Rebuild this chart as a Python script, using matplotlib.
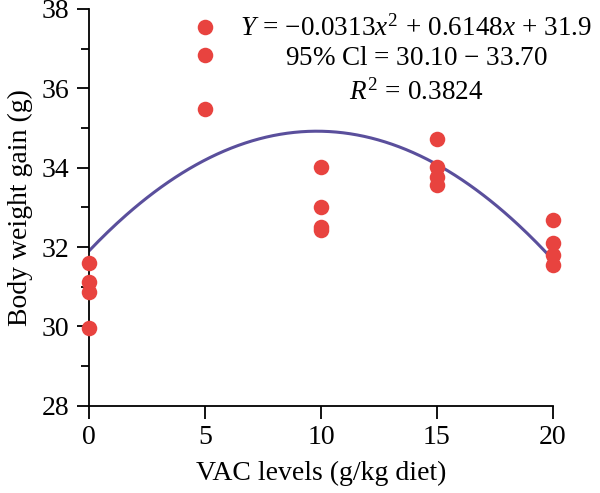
import matplotlib
matplotlib.use("Agg")
import matplotlib.pyplot as plt
import numpy as np
from matplotlib.ticker import MultipleLocator

plt.rcParams['font.family'] = ['Liberation Serif', 'DejaVu Serif']
plt.rcParams['mathtext.fontset'] = 'custom'
plt.rcParams['mathtext.rm'] = 'Liberation Serif'
plt.rcParams['mathtext.it'] = 'Liberation Serif:italic'

# Data
vac_x = [0, 0, 0, 0, 5, 5, 5, 10, 10, 10, 10, 15, 15, 15, 15, 20, 20, 20, 20]
gain_y = [31.60, 31.13, 30.87, 29.97,
          37.54, 36.84, 35.47,
          34.01, 33.00, 32.50, 32.42,
          34.72, 34.02, 33.77, 33.56,
          32.67, 32.09, 31.80, 31.55]
coef_a, coef_b, coef_c = -0.0313, 0.6148, 31.9
x_ticks = [0, 5, 10, 15, 20]
y_ticks = [28, 30, 32, 34, 36, 38]

fig = plt.figure(figsize=(6, 4.93), dpi=100)
ax = fig.add_axes([0.1483, 0.1771, 0.7733, 0.8047])

xs = np.linspace(0, 20, 200)
ax.plot(xs, coef_a * xs**2 + coef_b * xs + coef_c, color='#5A4F9C', lw=2.2, zorder=2)
ax.scatter(vac_x, gain_y, s=125, color='#E8433F', zorder=3, clip_on=False, linewidths=0)

ax.set_xlim(0, 20)
ax.set_ylim(28, 38)
ax.set_xticks(x_ticks)
ax.set_yticks(y_ticks)
ax.yaxis.set_minor_locator(MultipleLocator(1))
for s in ['top', 'right']:
    ax.spines[s].set_visible(False)
for s in ['left', 'bottom']:
    ax.spines[s].set_linewidth(1.3)
ax.tick_params(axis='both', which='major', direction='out', length=9, width=1.3,
               labelsize=20, pad=5)
ax.tick_params(axis='y', which='minor', direction='out', length=6, width=1.3)

ax.set_xlabel('VAC levels (g/kg diet)', fontsize=20, labelpad=8)
ax.set_ylabel('Body weight gain (g)', fontsize=20, labelpad=6)

ax.text(14.1, 37.32, r'$Y\,=\,{-}0.0313x^2\,+\,0.6148x\,+\,31.9$', ha='center', va='baseline', fontsize=19.5)
ax.text(14.1, 36.59, r'95% Cl = 30.10 $-$ 33.70', ha='center', va='baseline', fontsize=19.5)
ax.text(14.1, 35.71, r'$R^2\,=\,0.3824$', ha='center', va='baseline', fontsize=19.5)

fig.savefig('out.png', dpi=100)
